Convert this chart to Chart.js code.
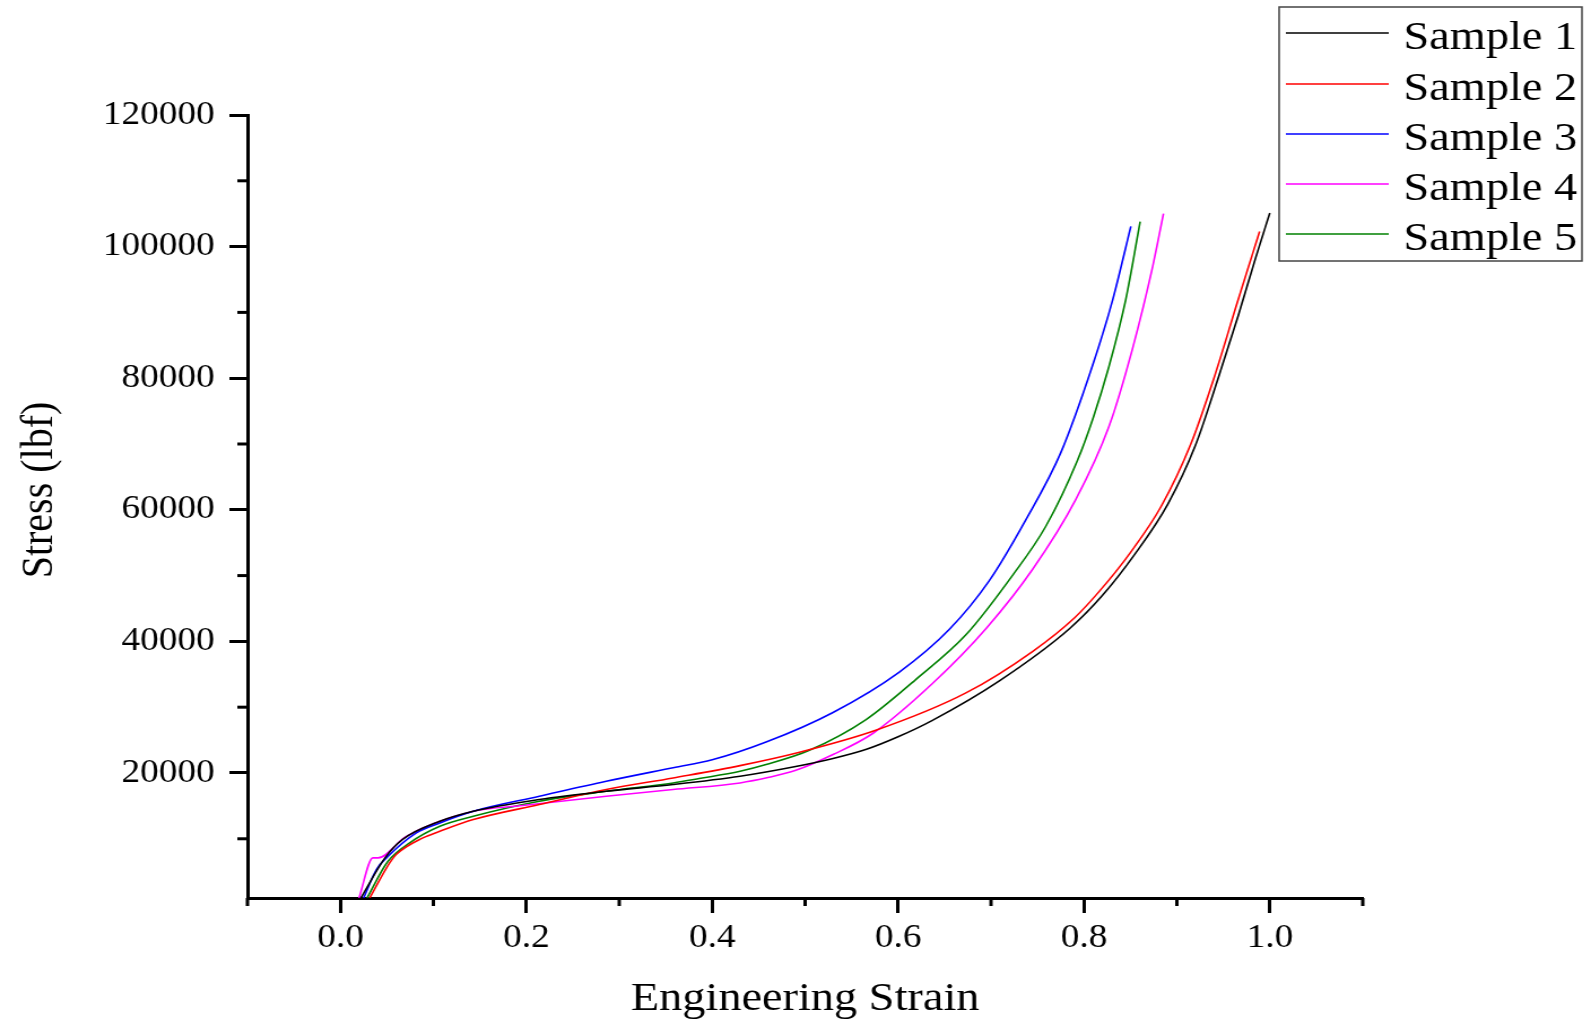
<!DOCTYPE html>
<html>
<head>
<meta charset="utf-8">
<script src="https://cdn.jsdelivr.net/npm/chart.js@4/dist/chart.umd.min.js"></script>
<style>
  html, body { margin: 0; padding: 0; background: #ffffff; overflow: hidden; }
</style>
</head>
<body>
<canvas id="c" width="1408" height="1022" style="display:block;width:1591px;height:1022px;"></canvas>
<script>
// ---------- data ----------
const seriesLabels = ['Sample 1', 'Sample 2', 'Sample 3', 'Sample 4', 'Sample 5'];
const seriesColors = ['#000000', '#ff0000', '#0000ff', '#ff00ff', '#008000'];

const strain1 = [0.022, 0.048, 0.067, 0.107, 0.143, 0.214, 0.286, 0.358, 0.430, 0.487, 0.530, 0.566, 0.600, 0.637, 0.709, 0.785, 0.820, 0.855, 0.890, 0.920, 0.944, 0.966, 0.985, 1.000];
const stress1 = [1000, 7100, 9900, 12660, 14180, 15960, 17220, 18240, 19500, 20900, 22200, 23600, 25500, 28000, 34000, 42000, 47000, 53300, 60800, 69800, 79800, 89500, 98400, 105100];

const strain2 = [0.0315, 0.053, 0.060, 0.0888, 0.107, 0.143, 0.214, 0.286, 0.358, 0.430, 0.494, 0.576, 0.673, 0.745, 0.790, 0.8165, 0.850, 0.883, 0.915, 0.941, 0.965, 0.989];
const stress2 = [1000, 6340, 7600, 10140, 11140, 12920, 15200, 17480, 19250, 21120, 23150, 26490, 32170, 38500, 43600, 47600, 53500, 60500, 70000, 80500, 91500, 102300];

const strain3 = [0.025, 0.0387, 0.0495, 0.0817, 0.107, 0.143, 0.214, 0.286, 0.358, 0.400, 0.458, 0.530, 0.601, 0.655, 0.698, 0.7376, 0.775, 0.809, 0.831, 0.8505];
const stress3 = [1000, 5320, 7100, 10900, 12410, 14180, 16460, 18740, 20800, 22000, 24700, 29200, 35300, 41800, 49200, 58510, 68650, 81810, 91950, 103080];

const strain4 = [0.020, 0.035, 0.0405, 0.070, 0.143, 0.196, 0.286, 0.358, 0.430, 0.460, 0.490, 0.530, 0.5727, 0.637, 0.695, 0.745, 0.791, 0.827, 0.852, 0.874, 0.8856];
const stress4 = [1000, 7100, 7100, 10300, 14180, 15050, 16460, 17480, 18490, 19300, 20400, 22800, 26000, 33600, 42000, 51000, 61500, 72690, 84350, 97000, 105020];

const strain5 = [0.0286, 0.0512, 0.0745, 0.107, 0.143, 0.214, 0.286, 0.358, 0.386, 0.430, 0.458, 0.5046, 0.5656, 0.619, 0.673, 0.723, 0.759, 0.793, 0.810, 0.827, 0.845, 0.8605];
const stress5 = [1000, 6580, 9380, 11900, 13420, 15700, 17220, 18490, 19150, 20260, 21280, 23450, 28120, 34200, 41000, 50000, 57500, 67500, 74000, 81810, 91950, 103800];

const xTicks = [0.0, 0.2, 0.4, 0.6, 0.8, 1.0];
const xMinorTicks = [-0.1, 0.1, 0.3, 0.5, 0.7, 0.9, 1.1];
const yTicks = [20000, 40000, 60000, 80000, 100000, 120000];
const yMinorTicks = [10000, 30000, 50000, 70000, 90000, 110000];

const xTitle = 'Engineering Strain';
const yTitle = 'Stress (lbf)';

// ---------- build ----------
const strains = [strain1, strain2, strain3, strain4, strain5];
const stresses = [stress1, stress2, stress3, stress4, stress5];

const datasets = seriesLabels.map((label, k) => ({
  label: label,
  data: strains[k].map((x, i) => ({ x: x, y: stresses[k][i] })),
  borderColor: seriesColors[k],
  backgroundColor: seriesColors[k],
  borderWidth: 1.6,
  pointRadius: 0,
  fill: false,
  cubicInterpolationMode: 'monotone'
}));

const SERIF = '"Liberation Serif", "Times New Roman", Times, serif';

const minorTicksPlugin = {
  id: 'minorTicks',
  afterDraw(chart) {
    const ctx = chart.ctx;
    const xs = chart.scales.x, ys = chart.scales.y;
    ctx.save();
    ctx.strokeStyle = '#000';
    ctx.lineWidth = 3;
    xMinorTicks.forEach(v => {
      const px = xs.getPixelForValue(v);
      ctx.beginPath(); ctx.moveTo(px, xs.top); ctx.lineTo(px, xs.top + 8); ctx.stroke();
    });
    yMinorTicks.forEach(v => {
      const py = ys.getPixelForValue(v);
      ctx.beginPath(); ctx.moveTo(ys.right, py); ctx.lineTo(ys.right - 9, py); ctx.stroke();
    });
    // y axis title, placed as in the reference (slightly above the axis centre)
    ctx.fillStyle = '#000';
    ctx.font = '40px ' + SERIF;
    ctx.textAlign = 'center';
    ctx.textBaseline = 'middle';
    ctx.translate(35, 490);
    ctx.rotate(-Math.PI / 2);
    ctx.fillText(yTitle, 0, 0);
    ctx.restore();
  }
};

const boxLegendPlugin = {
  id: 'boxLegend',
  afterDraw(chart) {
    const ctx = chart.ctx;
    const left = 1132, top = 7, right = 1400, bottom = 261;
    const rowY = [33, 84, 134, 184, 234];
    ctx.save();
    ctx.strokeStyle = '#444';
    ctx.lineWidth = 1.5;
    ctx.fillStyle = '#ffffff';
    ctx.fillRect(left, top, right - left, bottom - top);
    ctx.strokeRect(left, top, right - left, bottom - top);
    chart.data.datasets.forEach((ds, i) => {
      const y = rowY[i];
      ctx.strokeStyle = ds.borderColor;
      ctx.lineWidth = 1.6;
      ctx.beginPath(); ctx.moveTo(1138, y); ctx.lineTo(1229, y); ctx.stroke();
      ctx.fillStyle = '#000';
      ctx.font = '41px ' + SERIF;
      ctx.textAlign = 'left';
      ctx.textBaseline = 'alphabetic';
      ctx.fillText(ds.label, 1242, y + 16);
    });
    ctx.restore();
  }
};

new Chart(document.getElementById('c'), {
  type: 'line',
  data: { datasets: datasets },
  options: {
    responsive: false,
    animation: false,
    devicePixelRatio: 1,
    layout: { padding: { left: 0, top: 115, right: 202, bottom: 0 } },
    plugins: { legend: { display: false }, tooltip: { enabled: false } },
    scales: {
      x: {
        type: 'linear',
        min: -0.1,
        max: 1.1,
        afterBuildTicks: s => { s.ticks = xTicks.map(v => ({ value: v })); },
        afterFit: s => { s.height = 124; },
        ticks: {
          color: '#000',
          padding: 6,
          font: { family: SERIF, size: 33 },
          callback: v => Number(v).toFixed(1),
          maxRotation: 0,
          autoSkip: false
        },
        grid: { display: true, drawOnChartArea: false, drawTicks: true, tickLength: 15, tickWidth: 3, tickColor: '#000' },
        border: { display: true, color: '#000', width: 3 },
        title: {
          display: true,
          text: xTitle,
          color: '#000',
          font: { family: SERIF, size: 41, lineHeight: 1.1 },
          padding: { top: 0, bottom: 0 }
        }
      },
      y: {
        type: 'linear',
        min: 1000,
        max: 120000,
        afterBuildTicks: s => { s.ticks = yTicks.map(v => ({ value: v })); },
        afterFit: s => { s.width = 219; },
        ticks: {
          color: '#000',
          padding: 13,
          font: { family: SERIF, size: 33 },
          callback: v => String(v),
          autoSkip: false
        },
        grid: { display: true, drawOnChartArea: false, drawTicks: true, tickLength: 16, tickWidth: 3, tickColor: '#000' },
        border: { display: true, color: '#000', width: 3 },
        title: { display: false, text: yTitle }
      }
    }
  },
  plugins: [minorTicksPlugin, boxLegendPlugin]
});
</script>
</body>
</html>
